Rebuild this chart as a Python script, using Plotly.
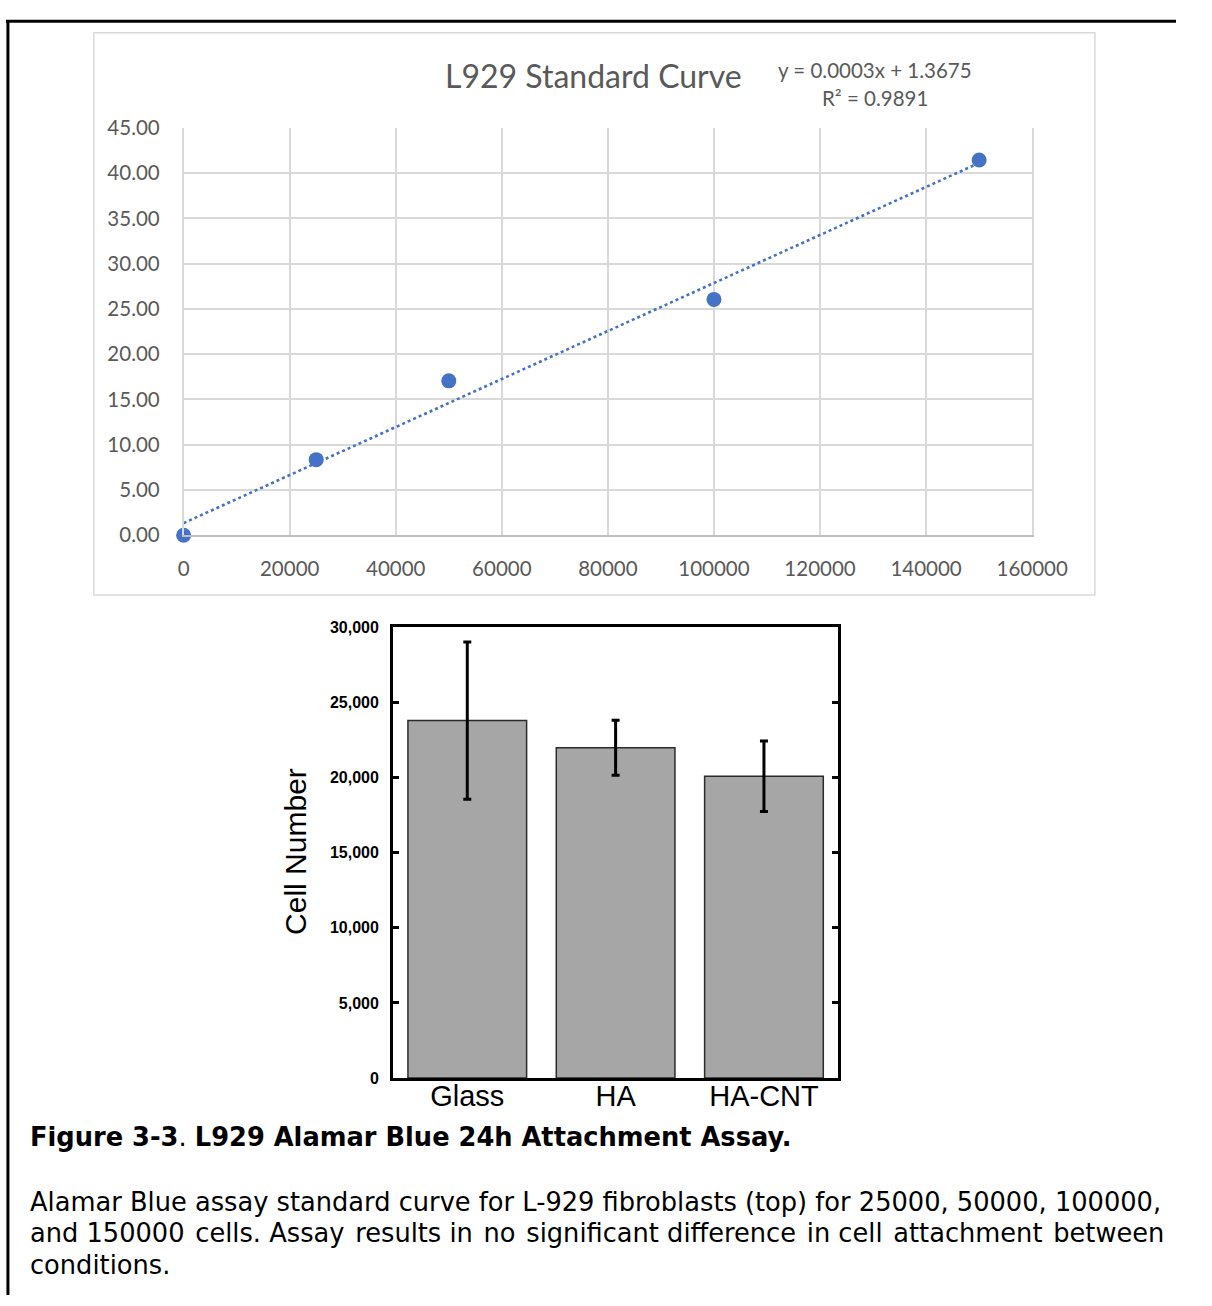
import numpy as np
import plotly.graph_objects as go

W, H = 1212, 1306

# ---------------- data: L929 standard curve ----------------
cells = [0, 25000, 50000, 100000, 150000]
signal = [0.0, 8.35, 17.05, 26.05, 41.45]
curve_x_ticks = [0, 20000, 40000, 60000, 80000, 100000, 120000, 140000, 160000]
curve_y_ticks = [0, 5, 10, 15, 20, 25, 30, 35, 40, 45]
curve_y_labels = ["0.00", "5.00", "10.00", "15.00", "20.00", "25.00", "30.00", "35.00", "40.00", "45.00"]
curve_title = "L929 Standard Curve"
equation_text = "y = 0.0003x + 1.3675"
r2_text = "R² = 0.9891"

# ---------------- data: attachment assay ----------------
conditions = ["Glass", "HA", "HA-CNT"]
cell_number = [23800, 22000, 20100]
cell_error = [5230, 1830, 2350]
bar_y_ticks = [0, 5000, 10000, 15000, 20000, 25000, 30000]
bar_y_labels = ["0", "5,000", "10,000", "15,000", "20,000", "25,000", "30,000"]
bar_y_title = "Cell Number"

caption_title = "<b>Figure 3-3</b>. <b>L929 Alamar Blue 24h Attachment Assay.</b>"
caption_lines = [
    "Alamar Blue assay standard curve for L-929 fibroblasts (top) for 25000, 50000, 100000,",
    "and 150000 cells. Assay results in no significant difference in cell attachment between",
    "conditions.",
]
# extra hair spaces used to imitate the justified paragraph
caption_extra = [0, 7, 0]


def px(x):
    return x / W


def py(y):
    return 1 - y / H


def justify(line, extra):
    words = line.split(" ")
    gaps = len(words) - 1
    out = words[0]
    for i, w in enumerate(words[1:]):
        pad = "\u200a" if extra and (i * extra) // gaps != ((i + 1) * extra) // gaps else ""
        out += " " + pad + w
    return out


# linear trendline fitted from the points
slope, intercept = np.polyfit(cells, signal, 1)
trend_x = [min(cells), max(cells)]
trend_y = [intercept + slope * v for v in trend_x]

BLUE = "#4472C4"
GRID = "#d9d9d9"
TXT = "#595959"
XLFONT = "Lato, Calibri, Carlito, sans-serif"
CAPFONT = "Verdana, DejaVu Sans, sans-serif"
ARIAL = "Arial, Liberation Sans, sans-serif"

fig = go.Figure()

fig.add_trace(go.Scatter(
    x=trend_x, y=trend_y, mode="lines",
    line=dict(color=BLUE, width=2.6, dash="dot"),
    xaxis="x", yaxis="y", showlegend=False, hoverinfo="skip",
))
fig.add_trace(go.Scatter(
    x=cells, y=signal, mode="markers",
    marker=dict(color=BLUE, size=15, line=dict(width=0)),
    xaxis="x", yaxis="y", showlegend=False, cliponaxis=False,
))

fig.add_trace(go.Bar(
    x=conditions, y=cell_number,
    marker=dict(color="#a6a6a6", line=dict(color="#2b2b2b", width=1.5)),
    width=0.8,
    error_y=dict(type="data", array=cell_error, visible=True,
                 color="black", thickness=3, width=4),
    xaxis="x2", yaxis="y2", showlegend=False,
))

shapes = [
    # outer figure border (top and left)
    dict(type="line", xref="paper", yref="paper", x0=0, x1=1, y0=py(8.5), y1=py(8.5),
         line=dict(color="black", width=3)),
    dict(type="line", xref="paper", yref="paper", x0=px(2), x1=px(2), y0=py(8), y1=0,
         line=dict(color="black", width=3)),
    # Excel chart area box
    dict(type="rect", xref="paper", yref="paper", x0=px(91), x1=px(1128), y0=py(593), y1=py(20),
         line=dict(color=GRID, width=1.5), layer="below"),
]

annotations = [
    dict(text=curve_title, x=px(609), y=py(64), xref="paper", yref="paper",
         showarrow=False, xanchor="center", yanchor="middle",
         font=dict(family=XLFONT, size=32, color=TXT)),
    dict(text=equation_text, x=px(900), y=py(58), xref="paper", yref="paper",
         showarrow=False, xanchor="center", yanchor="middle",
         font=dict(family=XLFONT, size=20.5, color=TXT)),
    dict(text=r2_text, x=px(900), y=py(87), xref="paper", yref="paper",
         showarrow=False, xanchor="center", yanchor="middle",
         font=dict(family=XLFONT, size=20.5, color=TXT)),
    dict(text=bar_y_title, x=px(300), y=py(854), xref="paper", yref="paper",
         showarrow=False, xanchor="center", yanchor="middle", textangle=-90,
         font=dict(family=ARIAL, size=30, color="black")),
    dict(text=caption_title, x=px(23), y=py(1145), xref="paper", yref="paper",
         showarrow=False, xanchor="left", yanchor="middle",
         font=dict(family=CAPFONT, size=25.7, color="black")),
]
for i, line in enumerate(caption_lines):
    annotations.append(dict(
        text=justify(line, caption_extra[i]), x=px(23), y=py(1211 + 32 * i),
        xref="paper", yref="paper",
        showarrow=False, xanchor="left", yanchor="middle",
        font=dict(family=CAPFONT, size=25.7, color="black")))

fig.update_layout(
    width=W, height=H,
    margin=dict(l=0, r=0, t=0, b=0),
    paper_bgcolor="white", plot_bgcolor="white",
    bargap=0.2,
    shapes=shapes, annotations=annotations,
    xaxis=dict(domain=[px(184), px(1063)], range=[0, 160000],
               tickvals=curve_x_ticks, ticktext=[str(v) for v in curve_x_ticks],
               showgrid=True, gridcolor=GRID, gridwidth=1.5,
               showline=True, linecolor="#bfbfbf", linewidth=1.5,
               zeroline=False, ticks="", ticklabelstandoff=14,
               tickfont=dict(family=XLFONT, size=20.5, color=TXT),
               anchor="y"),
    yaxis=dict(domain=[py(532), py(117)], range=[0, 45],
               tickvals=curve_y_ticks, ticktext=curve_y_labels,
               showgrid=True, gridcolor=GRID, gridwidth=1.5,
               showline=True, linecolor=GRID, linewidth=1.5, mirror=True,
               zeroline=False, ticks="", ticklabelstandoff=18,
               tickfont=dict(family=XLFONT, size=20.5, color=TXT),
               anchor="x"),
    xaxis2=dict(domain=[px(401), px(862)], range=[-0.5, 2.5], type="category",
                showgrid=False, zeroline=False,
                showline=True, linecolor="black", linewidth=3, mirror=True,
                ticks="", ticklabelstandoff=-10,
                tickfont=dict(family=ARIAL, size=29, color="black"),
                anchor="y2"),
    yaxis2=dict(domain=[py(1085), py(626)], range=[0, 30000],
                tickvals=bar_y_ticks, ticktext=bar_y_labels,
                showgrid=False, zeroline=False,
                showline=True, linecolor="black", linewidth=3, mirror="allticks",
                ticks="inside", ticklen=6, tickwidth=2.5, tickcolor="black",
                ticklabelstandoff=8,
                tickfont=dict(family=ARIAL, size=16, color="black", weight="bold"),
                anchor="x2"),
)

fig.write_html(
    "out.html",
    config={"responsive": False},
    post_script="document.body.style.margin='0';document.body.style.padding='0';"
                "document.documentElement.style.overflow='hidden';",
)
